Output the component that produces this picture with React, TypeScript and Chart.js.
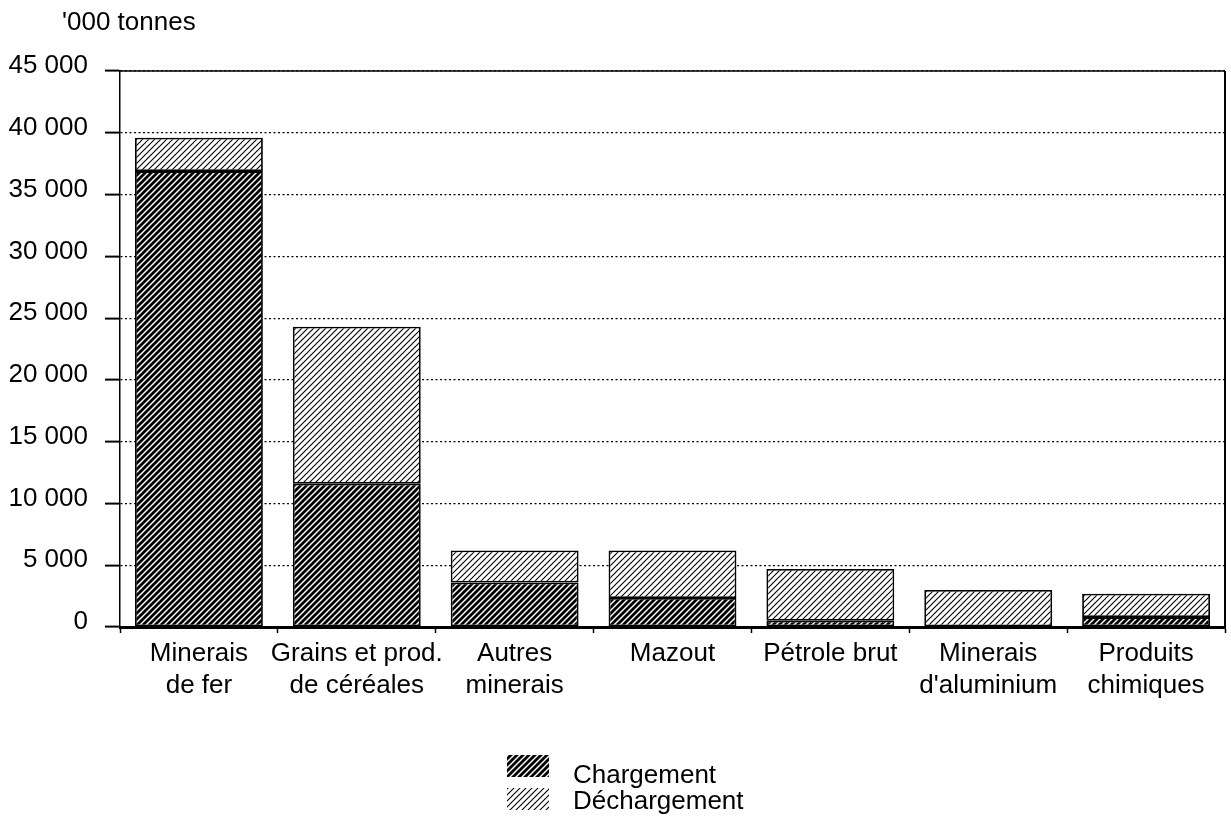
import React, { useEffect, useRef } from "react";
import { Chart, registerables } from "chart.js";

Chart.register(...registerables);

const categories: string[][] = [
  ["Minerais", "de fer"],
  ["Grains et prod.", "de céréales"],
  ["Autres", "minerais"],
  ["Mazout"],
  ["Pétrole brut"],
  ["Minerais", "d'aluminium"],
  ["Produits", "chimiques"],
];
const chargement = [36900, 11600, 3600, 2350, 500, 0, 800];
const dechargement = [2700, 12700, 2600, 3850, 4200, 3000, 1900];
const seriesNames = ["Chargement", "Déchargement"];
const unitLabel = "'000 tonnes";
const yMax = 45000;
const yStep = 5000;

const FONT = '"Liberation Sans", Arial, Helvetica, sans-serif';

function makePattern(lineWidth: number): CanvasPattern | string {
  const s = 6;
  const c = document.createElement("canvas");
  c.width = s;
  c.height = s;
  const g = c.getContext("2d");
  if (!g) return "#888";
  g.fillStyle = "#fff";
  g.fillRect(0, 0, s, s);
  g.strokeStyle = "#000";
  g.lineWidth = lineWidth;
  g.beginPath();
  g.moveTo(-1, s + 1);
  g.lineTo(s + 1, -1);
  g.moveTo(-2, 2);
  g.lineTo(2, -2);
  g.moveTo(s - 2, s + 2);
  g.lineTo(s + 2, s - 2);
  g.stroke();
  const p = g.createPattern(c, "repeat");
  return p || "#888";
}

function fmt(v: number): string {
  if (v === 0) return "0";
  const s = String(v);
  return s.replace(/\B(?=(\d{3})+(?!\d))/g, " ");
}

export default function App() {
  const ref = useRef<HTMLCanvasElement | null>(null);

  useEffect(() => {
    document.body.style.margin = "0";
    const canvas = ref.current;
    if (!canvas) return;
    const dark = makePattern(2.8);
    const light = makePattern(1.1);

    const extras = {
      id: "extras",
      afterDraw(chart: any) {
        const ctx = chart.ctx;
        const a = chart.chartArea;
        ctx.save();
        // frame top & right
        ctx.strokeStyle = "#000";
        ctx.lineWidth = 1.5;
        ctx.beginPath();
        ctx.moveTo(a.left, a.top);
        ctx.lineTo(a.right, a.top);
        ctx.stroke();
        ctx.lineWidth = 2;
        ctx.beginPath();
        ctx.moveTo(a.right, a.top);
        ctx.lineTo(a.right, a.bottom);
        ctx.stroke();
        // unit label
        ctx.fillStyle = "#000";
        ctx.font = `26px ${FONT}`;
        ctx.textBaseline = "middle";
        ctx.textAlign = "left";
        ctx.fillText(unitLabel, 62, 23);
        // legend
        const fills = [dark, light];
        const boxes = [
          { x: 507, y: 755, tx: 573, ty: 776 },
          { x: 507, y: 788, tx: 573, ty: 802 },
        ];
        boxes.forEach((b, i) => {
          ctx.fillStyle = fills[i] as any;
          ctx.fillRect(b.x, b.y, 42, 22);
          ctx.fillStyle = "#000";
          ctx.fillText(seriesNames[i], b.tx, b.ty);
        });
        ctx.restore();
      },
    };

    const chart = new Chart(canvas, {
      type: "bar",
      data: {
        labels: categories,
        datasets: [
          {
            label: seriesNames[0],
            data: chargement,
            backgroundColor: dark as any,
            borderColor: "#000",
            borderWidth: 1.8,
            borderSkipped: false,
            categoryPercentage: 1,
            barPercentage: 0.81,
          },
          {
            label: seriesNames[1],
            data: dechargement,
            backgroundColor: light as any,
            borderColor: "#000",
            borderWidth: 1.8,
            borderSkipped: false,
            categoryPercentage: 1,
            barPercentage: 0.81,
          },
        ],
      },
      options: {
        responsive: false,
        animation: false,
        layout: { padding: { top: 71, right: 6, bottom: 0, left: 0 } },
        plugins: {
          legend: { display: false },
          tooltip: { enabled: false },
          title: { display: false },
        },
        scales: {
          x: {
            stacked: true,
            offset: true,
            afterFit(scale: any) {
              scale.height = 191;
            },
            grid: {
              display: true,
              drawOnChartArea: false,
              drawTicks: true,
              tickLength: 6,
              color: "#000",
              tickColor: "#000",
              tickWidth: 1.5,
            } as any,
            border: { display: true, color: "#000", width: 3 },
            ticks: {
              color: "#000",
              padding: 5,
              maxRotation: 0,
              autoSkip: false,
              font: { family: FONT, size: 26, lineHeight: 1.22 },
            },
          },
          y: {
            stacked: true,
            min: 0,
            max: yMax,
            afterFit(scale: any) {
              scale.width = 120;
            },
            grid: {
              display: true,
              drawOnChartArea: true,
              drawTicks: true,
              tickLength: 15,
              color: "#000",
              lineWidth: 1.2,
              tickColor: "#000",
              tickWidth: 2,
              tickBorderDash: [],
            } as any,
            border: { display: true, color: "#000", width: 1.5, dash: [2, 2.5] } as any,
            ticks: {
              stepSize: yStep,
              color: "#000",
              padding: 17,
              labelOffset: -5,
              font: { family: FONT, size: 26 },
              callback: (v: any) => fmt(Number(v)),
            } as any,
          },
        },
      },
      plugins: [extras],
    });
    return () => chart.destroy();
  }, []);

  return (
    <div style={{ width: 1231, height: 818, background: "#fff" }}>
      <canvas ref={ref} width={1231} height={818} style={{ display: "block" }} />
    </div>
  );
}
